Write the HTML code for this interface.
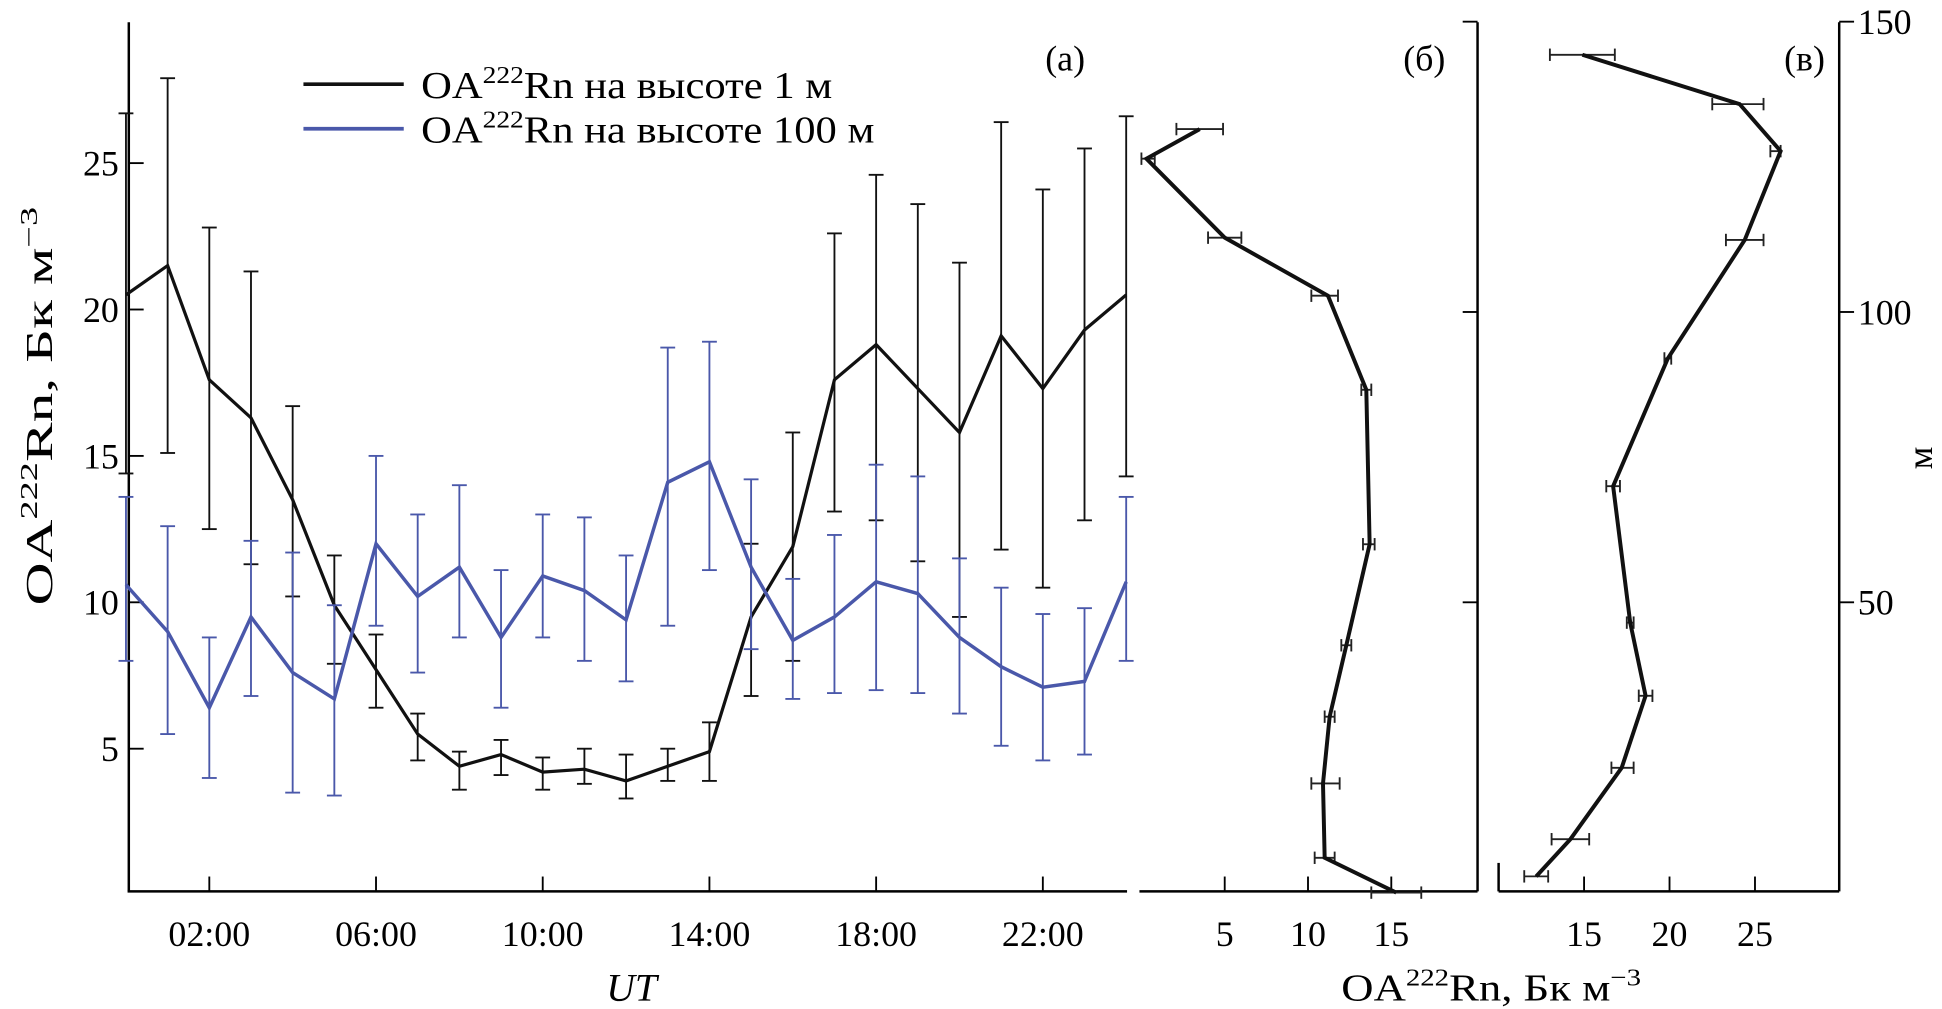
<!DOCTYPE html>
<html><head><meta charset="utf-8"><style>
html,body{margin:0;padding:0;background:#fff;}
svg{display:block;font-family:"Liberation Serif",serif;}
</style></head><body>
<svg id="c" width="1942" height="1009" viewBox="0 0 1568 815" preserveAspectRatio="none"></svg>
<script>
const hours=[0,1,2,3,4,5,6,7,8,9,10,11,12,13,14,15,16,17,18,19,20,21,22,23,24];
const black=[20.5,21.5,17.6,16.3,13.5,9.9,7.7,5.5,4.4,4.8,4.2,4.3,3.9,4.4,4.9,9.5,11.9,17.6,18.8,17.3,15.8,19.1,17.3,19.3,20.5];
const blackHi=[26.7,27.9,22.8,21.3,16.7,11.6,8.9,6.2,4.9,5.3,4.7,5.0,4.8,5.0,5.9,12.0,15.8,22.6,24.6,23.6,21.6,26.4,24.1,25.5,26.6];
const blackLo=[14.4,15.1,12.5,11.3,10.2,7.9,6.4,4.6,3.6,4.1,3.6,3.8,3.3,3.9,3.9,6.8,8.0,13.1,12.8,11.4,9.5,11.8,10.5,12.8,14.3];
const blue=[10.6,9.0,6.4,9.5,7.6,6.7,12.0,10.2,11.2,8.8,10.9,10.4,9.4,14.1,14.8,11.2,8.7,9.5,10.7,10.3,8.8,7.8,7.1,7.3,10.7];
const blueHi=[13.6,12.6,8.8,12.1,11.7,9.9,15.0,13.0,14.0,11.1,13.0,12.9,11.6,18.7,18.9,14.2,10.8,12.3,14.7,14.3,11.5,10.5,9.6,9.8,13.6];
const blueLo=[8.0,5.5,4.0,6.8,3.5,3.4,9.2,7.6,8.8,6.4,8.8,8.0,7.3,9.2,11.1,8.4,6.7,6.9,7.0,6.9,6.2,5.1,4.6,4.8,8.0];
const aYTicks=[5,10,15,20,25];
const aXTicks=[2,6,10,14,18,22];
const aXLabels=["02:00","06:00","10:00","14:00","18:00","22:00"];
const bH=[0,6,18.8,30.3,42.6,60,86.6,102.8,112.8,126.4,131.5];
const bV=[15.3,11.0,10.9,11.3,12.3,13.7,13.5,11.2,5.0,0.3,3.5];
const bLo=[13.8,10.4,10.2,11.0,12.0,13.3,13.2,10.2,4.0,0.0,2.1];
const bHi=[16.8,11.6,11.9,11.6,12.6,14.0,13.8,11.8,6.0,0.8,4.9];
const cH=[2.8,9.2,21.5,33.9,46.5,70,92,112.4,127.7,135.8,144.3];
const cV=[12.2,14.2,17.2,18.6,17.7,16.7,19.9,24.4,26.5,24.1,14.9];
const cLo=[11.5,13.1,16.6,18.2,17.5,16.3,19.7,23.3,25.9,22.5,13.0];
const cHi=[12.9,15.3,17.9,19.0,17.9,17.1,20.1,25.5,26.5,25.5,16.8];
const bXTicks=[5,10,15];
const cXTicks=[15,20,25];
const hTicks=[50,100,150];

const NS="http://www.w3.org/2000/svg";
const svg=document.getElementById('c');
function el(t,a,p){const e=document.createElementNS(NS,t);for(const k in a)e.setAttribute(k,a[k]);(p||svg).appendChild(e);return e;}
const ax=h=>101.7+33.65*h, ay=v=>723-23.65*v;
const hy=h=>721-4.69*h, bx=v=>921.6+13.45*v, cx=v=>1072+13.8*v;
const FS=29;

let e=el('line',{x1:104,y1:18,x2:104,y2:720,stroke:'#000','stroke-width':2});

e=el('line',{x1:103,y1:720,x2:910,y2:720,stroke:'#000','stroke-width':2});

aYTicks.forEach(v=>{el('line',{x1:104,y1:ay(v),x2:116,y2:ay(v),stroke:'#000','stroke-width':1.5});
 e=el('text',{x:96,y:ay(v)+10,'text-anchor':'end','font-size':FS});e.textContent=v;
 });
aXTicks.forEach((h,i)=>{el('line',{x1:ax(h),y1:720,x2:ax(h),y2:708,stroke:'#000','stroke-width':1.5});
 e=el('text',{x:ax(h),y:764,'text-anchor':'middle','font-size':FS});e.textContent=aXLabels[i];
 });
e=el('text',{x:510,y:808,'text-anchor':'middle','font-size':32,'font-style':'italic'});e.textContent='UT';

e=el('text',{transform:'translate(42,328) rotate(-90)','text-anchor':'middle','font-size':31,textLength:322,lengthAdjust:'spacingAndGlyphs'});
e.innerHTML='OA<tspan dy="-12" font-size="20">222</tspan><tspan dy="12">Rn, Бк м</tspan><tspan dy="-12" font-size="20">−3</tspan>';


function series(vals,hi,lo,col,w,ew,name){
 const g=el('g',{});
 hours.forEach((h,i)=>{const x=ax(h);
  el('line',{x1:x,y1:ay(hi[i]),x2:x,y2:ay(lo[i]),stroke:col,'stroke-width':ew},g);
  el('line',{x1:x-6,y1:ay(hi[i]),x2:x+6,y2:ay(hi[i]),stroke:col,'stroke-width':ew},g);
  el('line',{x1:x-6,y1:ay(lo[i]),x2:x+6,y2:ay(lo[i]),stroke:col,'stroke-width':ew},g);});
 el('polyline',{points:hours.map((h,i)=>ax(h)+','+ay(vals[i])).join(' '),fill:'none',stroke:col,'stroke-width':w},g);
}
series(black,blackHi,blackLo,'#111',2.6,1.5,'series-1m');
series(blue,blueHi,blueLo,'#4a58aa',2.8,1.5,'series-100m');

e=el('line',{x1:245,y1:68,x2:326,y2:68,stroke:'#111','stroke-width':3});
e=el('line',{x1:245,y1:104,x2:326,y2:104,stroke:'#4a58aa','stroke-width':3});
e=el('text',{x:340,y:79,'font-size':31,textLength:332,lengthAdjust:'spacingAndGlyphs'});e.innerHTML='OA<tspan dy="-12" font-size="20">222</tspan><tspan dy="12">Rn на высоте 1 м</tspan>';

e=el('text',{x:340,y:115,'font-size':31,textLength:366,lengthAdjust:'spacingAndGlyphs'});e.innerHTML='OA<tspan dy="-12" font-size="20">222</tspan><tspan dy="12">Rn на высоте 100 м</tspan>';

e=el('text',{x:860,y:57,'text-anchor':'middle','font-size':FS});e.textContent='(a)';

e=el('line',{x1:920,y1:720,x2:1193,y2:720,stroke:'#000','stroke-width':2});
e=el('line',{x1:1193,y1:18,x2:1193,y2:720,stroke:'#000','stroke-width':2});
hTicks.forEach(h=>{el('line',{x1:1193,y1:hy(h),x2:1181,y2:hy(h),stroke:'#000','stroke-width':1.5});});
bXTicks.forEach(v=>{el('line',{x1:bx(v),y1:720,x2:bx(v),y2:708,stroke:'#000','stroke-width':1.5});
 e=el('text',{x:bx(v),y:764,'text-anchor':'middle','font-size':FS});e.textContent=v;});
e=el('text',{x:1150,y:57,'text-anchor':'middle','font-size':FS});e.textContent='(б)';

function profile(H,V,Lo,Hi,fx,name){
 const g=el('g',{});
 H.forEach((h,i)=>{const y=hy(h);
  el('line',{x1:fx(Lo[i]),y1:y,x2:fx(Hi[i]),y2:y,stroke:'#222','stroke-width':1.5},g);
  el('line',{x1:fx(Lo[i]),y1:y-5,x2:fx(Lo[i]),y2:y+5,stroke:'#222','stroke-width':1.5},g);
  el('line',{x1:fx(Hi[i]),y1:y-5,x2:fx(Hi[i]),y2:y+5,stroke:'#222','stroke-width':1.5},g);});
 el('polyline',{points:H.map((h,i)=>fx(V[i])+','+hy(h)).join(' '),fill:'none',stroke:'#111','stroke-width':3.2},g);
}
profile(bH,bV,bLo,bHi,bx,'profile-b');

e=el('line',{x1:1210,y1:720,x2:1485,y2:720,stroke:'#000','stroke-width':2});
e=el('line',{x1:1210,y1:697,x2:1210,y2:720,stroke:'#000','stroke-width':2});
e=el('line',{x1:1485,y1:18,x2:1485,y2:720,stroke:'#000','stroke-width':2});
hTicks.forEach(h=>{el('line',{x1:1485,y1:hy(h),x2:1497,y2:hy(h),stroke:'#000','stroke-width':1.5});
 e=el('text',{x:1500,y:hy(h)+10,'font-size':FS});e.textContent=h;});
cXTicks.forEach(v=>{el('line',{x1:cx(v),y1:720,x2:cx(v),y2:708,stroke:'#000','stroke-width':1.5});
 e=el('text',{x:cx(v),y:764,'text-anchor':'middle','font-size':FS});e.textContent=v;});
e=el('text',{transform:'translate(1560,370) rotate(-90)','text-anchor':'middle','font-size':FS});e.textContent='м';
e=el('text',{x:1457,y:57,'text-anchor':'middle','font-size':FS});e.textContent='(в)';
profile(cH,cV,cLo,cHi,cx,'profile-c');

e=el('text',{x:1204,y:808,'text-anchor':'middle','font-size':31,textLength:242,lengthAdjust:'spacingAndGlyphs'});
e.innerHTML='OA<tspan dy="-12" font-size="20">222</tspan><tspan dy="12">Rn, Бк м</tspan><tspan dy="-12" font-size="20">−3</tspan>';

</script>
</body></html>
